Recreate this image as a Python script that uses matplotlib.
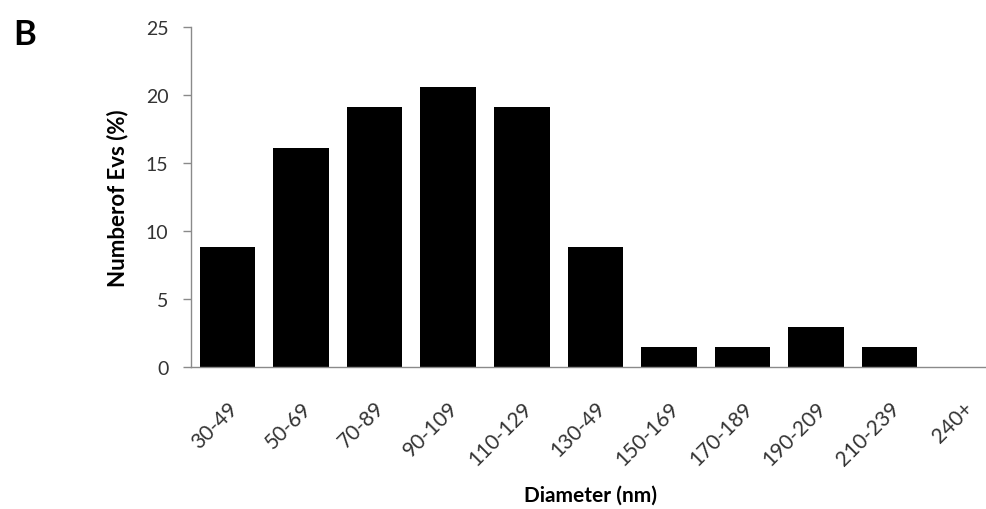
import numpy as np
import matplotlib
matplotlib.use("Agg")
import matplotlib.pyplot as plt

plt.rcParams['font.family'] = ['Lato', 'DejaVu Sans']

# size bins of the vesicles and share of each bin (%)
bins = ["30-49", "50-69", "70-89", "90-109", "110-129", "130-49",
        "150-169", "170-189", "190-209", "210-239", "240+"]
percent = [8.8, 16.1, 19.1, 20.6, 19.1, 8.8, 1.47, 1.47, 2.94, 1.47, 0.0]

fig = plt.figure(figsize=(9.87, 5.10), dpi=100)
axw = (1000-190.7)/987
ax = fig.add_axes([190.7/987, 1-368/510, axw, 340/510])

x = np.arange(len(bins))
ax.bar(x, percent, width=0.757, color="black")

ax.set_xlim(-0.5, len(bins)-0.5)
ax.set_ylim(0, 25)
ax.set_yticks([0, 5, 10, 15, 20, 25])
ax.set_xticks(x)
ax.set_xticklabels(bins, rotation=45, ha="right", va="top", rotation_mode="anchor")
for lab in ax.get_xticklabels():
    lab.set_x(lab.get_position()[0])

for s in ["top", "right"]:
    ax.spines[s].set_visible(False)
for s in ["left", "bottom"]:
    ax.spines[s].set_color("#8a8a8a")
    ax.spines[s].set_linewidth(1.0)

ax.tick_params(axis="y", direction="out", length=6, width=1, color="#8a8a8a",
               labelsize=14, labelcolor="#333333", pad=10)
ax.tick_params(axis="x", length=0, labelsize=15, labelcolor="#333333", pad=22)

ax.set_ylabel("Numberof Evs (%)", fontsize=16, fontweight="bold")
ax.yaxis.set_label_coords(-0.0775, 0.5)
ax.set_xlabel("Diameter (nm)", fontsize=15, fontweight="bold")
ax.xaxis.set_label_coords((591-190.7)/809.3, -0.345)

fig.text(13/987, 1-45/510, "B", fontsize=25, fontweight="bold")

plt.savefig("out.png", dpi=100)
